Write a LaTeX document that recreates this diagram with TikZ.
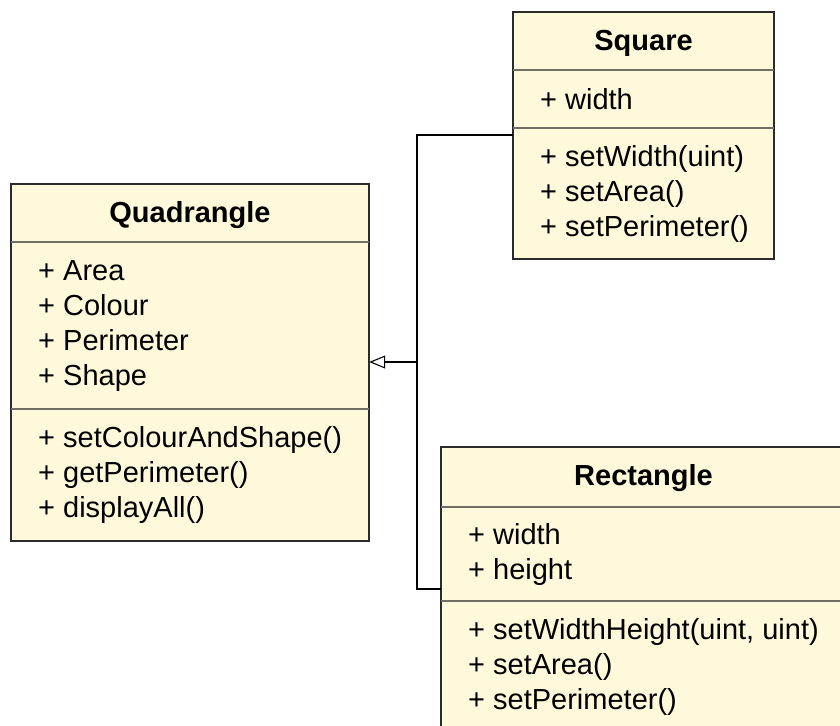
\documentclass[tikz,border=0pt]{standalone}
\usepackage{fontspec}
\setmainfont{Liberation Sans}
\usetikzlibrary{arrows.meta}
\definecolor{classfill}{HTML}{FEF9DA}
\definecolor{classedge}{HTML}{2B2B2B}
\definecolor{divider}{HTML}{6E6E62}
\tikzset{
  classbox/.style={draw=classedge, fill=classfill, line width=1.4pt},
  divline/.style={draw=divider, line width=1.4pt},
  titletext/.style={font=\fontsize{29}{34}\selectfont\bfseries, inner sep=0pt, anchor=base},
  membertext/.style={font=\fontsize{29}{34}\selectfont, inner sep=0pt, anchor=base west},
  link/.style={draw=black, line width=1.1pt},
  inherit/.style={link, -{Triangle[open, length=16pt, width=13pt, line width=1.1pt]}},
}
\begin{document}
\begin{tikzpicture}[x=1pt, y=-1pt]
\useasboundingbox (0,0) rectangle (840,725);
\clip (0,0) rectangle (840,725);
\fill[white] (0,0) rectangle (840,725);

% Quadrangle
\draw[classbox] (11,184) rectangle (369,541);
\node[inner sep=0pt, minimum width=358pt, minimum height=357pt] (quad) at (190,362.5) {};
\draw[divline] (11,242) -- (369,242);
\draw[divline] (11,409) -- (369,409);
\node[titletext] (quadT) at (190,222) {Quadrangle};
\node[membertext] (quadA1) at (38,280) {+ Area};
\node[membertext] (quadA2) at (38,315) {+ Colour};
\node[membertext] (quadA3) at (38,350) {+ Perimeter};
\node[membertext] (quadA4) at (38,385) {+ Shape};
\node[membertext] (quadM1) at (38,447) {+ setColourAndShape()};
\node[membertext] (quadM2) at (38,482) {+ getPerimeter()};
\node[membertext] (quadM3) at (38,517) {+ displayAll()};

% Square
\draw[classbox] (513,12) rectangle (774,259);
\node[inner sep=0pt, minimum width=261pt, minimum height=247pt] (sq) at (643.5,135.5) {};
\draw[divline] (513,70) -- (774,70);
\draw[divline] (513,128) -- (774,128);
\node[titletext] (sqT) at (643.5,51) {Square};
\node[membertext] (sqA1) at (540,109) {+ width};
\node[membertext] (sqM1) at (540,166) {+ setWidth(uint)};
\node[membertext] (sqM2) at (540,201) {+ setArea()};
\node[membertext] (sqM3) at (540,236) {+ setPerimeter()};

% Rectangle
\draw[classbox] (441,447) rectangle (846,750);
\node[inner sep=0pt, minimum width=405pt, minimum height=303pt] (rect) at (643.5,598.5) {};
\draw[divline] (441,507) -- (846,507);
\draw[divline] (441,601) -- (846,601);
\node[titletext] (rectT) at (643.5,485) {Rectangle};
\node[membertext] (rectA1) at (468,544) {+ width};
\node[membertext] (rectA2) at (468,579) {+ height};
\node[membertext] (rectM1) at (468,639) {+ setWidthHeight(uint, uint)};
\node[membertext] (rectM2) at (468,674) {+ setArea()};
\node[membertext] (rectM3) at (468,709) {+ setPerimeter()};

% Generalisation connectors
\coordinate (jtop) at (417,135);
\coordinate (jmid) at (417,362);
\coordinate (jbot) at (417,589);
\draw[link] (sq.west |- jtop) -- (jtop) -- (jbot) -- (rect.west |- jbot);
\draw[inherit] (jmid) -- (quad.east |- jmid);
\end{tikzpicture}
\end{document}
